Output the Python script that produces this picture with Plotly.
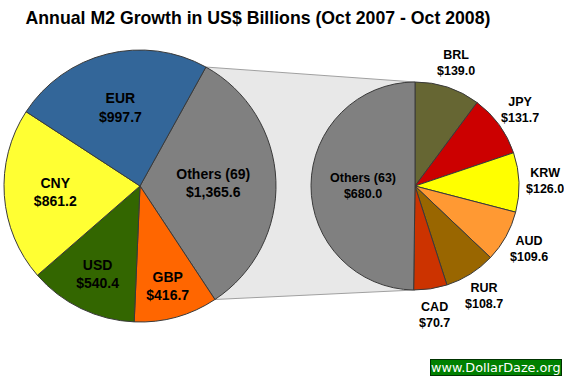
import math
import plotly.graph_objects as go

# ---- data ----
main_labels = ["Others (69)", "GBP", "USD", "CNY", "EUR"]
main_values = [1365.6, 416.7, 540.4, 861.2, 997.7]
main_colors = ["#808080", "#FF6600", "#336600", "#FFFF33", "#336699"]

sub_labels = ["BRL", "JPY", "KRW", "AUD", "RUR", "CAD", "Others (63)"]
sub_values = [139.0, 131.7, 126.0, 109.6, 108.7, 70.7, 680.0]
sub_colors = ["#666633", "#CC0000", "#FFFF00", "#FF9933", "#996600", "#CC3300", "#808080"]

title_text = "Annual M2 Growth in US$ Billions (Oct 2007 - Oct 2008)"
watermark = "www.DollarDaze.org"

# ---- layout geometry (pixels) ----
W, H = 564, 379
main_c, main_r, main_rot = (140, 186), 136, 29
sub_c, sub_r = (415, 186), 104
label_gap = 26

FONT = "Liberation Sans, Arial"


def dom(c, r):
    return dict(x=[(c[0] - r) / W, (c[0] + r) / W],
                y=[1 - (c[1] + r) / H, 1 - (c[1] - r) / H])


def px2paper(x, y):
    return x / W, 1 - y / H


fig = go.Figure()

fig.add_trace(go.Pie(
    labels=main_labels, values=main_values, sort=False, direction="clockwise",
    rotation=main_rot, domain=dom(main_c, main_r),
    marker=dict(colors=main_colors, line=dict(color="#3a3a3a", width=1)),
    texttemplate="%{label}<br>$%{value:,.1f}", textposition="inside",
    insidetextorientation="horizontal",
    textfont=dict(family=FONT, size=14, color="black", weight="bold"),
    showlegend=False, hoverinfo="label+value",
))

n_out = len(sub_labels) - 1
fig.add_trace(go.Pie(
    labels=sub_labels, values=sub_values, sort=False, direction="clockwise",
    rotation=0, domain=dom(sub_c, sub_r),
    marker=dict(colors=sub_colors, line=dict(color="#3a3a3a", width=1)),
    texttemplate=[""] * n_out + ["%{label}<br>$%{value:,.1f}"],
    textposition="inside",
    insidetextorientation="horizontal",
    textfont=dict(family=FONT, size=12.5, color="black", weight="bold"),
    showlegend=False, hoverinfo="label+value",
))

# outside labels of the sub pie, placed along each slice's mid-angle
total = sum(sub_values)
cum = 0.0
for lab, val in zip(sub_labels, sub_values):
    mid = (cum + val / 2) / total * 2 * math.pi
    cum += val
    if lab.startswith("Others"):
        continue
    d = sub_r + label_gap
    lx = sub_c[0] + d * math.sin(mid)
    ly = sub_c[1] - d * math.cos(mid)
    ax, ay = px2paper(lx, ly)
    fig.add_annotation(
        text=f"{lab}<br>${val:,.1f}", xref="paper", yref="paper", x=ax, y=ay,
        xanchor="center", yanchor="middle", showarrow=False,
        font=dict(family=FONT, size=12.5, color="black", weight="bold"),
    )

# connector polygon from the edges of main "Others" slice to the sub pie
frac = main_values[0] / sum(main_values)
a0 = math.radians(main_rot)
a1 = math.radians(main_rot + frac * 360)
p1 = (main_c[0] + main_r * math.sin(a0), main_c[1] - main_r * math.cos(a0))
p2 = (sub_c[0], sub_c[1] - sub_r)
p3 = (sub_c[0], sub_c[1] + sub_r)
p4 = (main_c[0] + main_r * math.sin(a1), main_c[1] - main_r * math.cos(a1))
pts = [px2paper(*p) for p in (p1, p2, p3, p4)]
path = "M {} {} L {} {} L {} {} L {} {} Z".format(*[v for p in pts for v in p])
fig.add_shape(type="path", path=path, xref="paper", yref="paper",
              fillcolor="#E8E8E8", line=dict(color="#A0A0A0", width=1), layer="below")

fig.add_annotation(
    text=watermark, xref="paper", yref="paper", x=562 / W, y=1 - 376 / H,
    xanchor="right", yanchor="bottom", showarrow=False,
    font=dict(family="DejaVu Sans", size=12.8, color="white"),
    bgcolor="#008000", bordercolor="#003300", borderwidth=1, borderpad=0,
)

fig.update_layout(
    width=W, height=H, margin=dict(l=0, r=0, t=0, b=0),
    paper_bgcolor="white", plot_bgcolor="white",
    title=dict(text=title_text, x=258 / W, xanchor="center", y=1 - 18 / H, yanchor="middle",
               font=dict(family=FONT, size=17.7, color="black", weight="bold")),
)

fig.write_html(
    "out.html",
    config={"displayModeBar": False},
    post_script="document.body.style.margin='0px';document.body.style.overflow='hidden';",
)
